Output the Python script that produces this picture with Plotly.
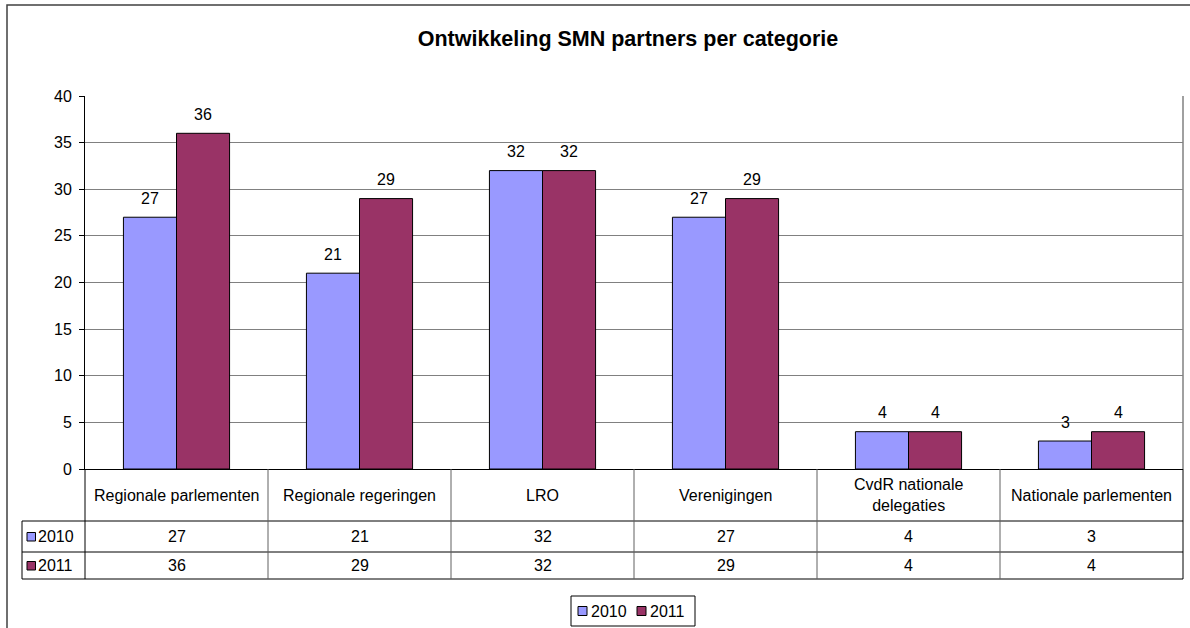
import plotly.graph_objects as go

categories = ["Regionale parlementen", "Regionale regeringen", "LRO", "Verenigingen",
              "CvdR nationale delegaties", "Nationale parlementen"]
cat_labels = ["Regionale parlementen", "Regionale regeringen", "LRO", "Verenigingen",
              "CvdR nationale<br>delegaties", "Nationale parlementen"]
series_names = ["2010", "2011"]
values_2010 = [27, 21, 32, 27, 4, 3]
values_2011 = [36, 29, 32, 29, 4, 4]
colors = ["#9999FF", "#993366"]
title_text = "Ontwikkeling SMN partners per categorie"

W, H = 1190, 628
L, R, T, B = 85, 1183, 96, 469
FONT = "Liberation Sans, Arial, sans-serif"
FS = 16


def px(x):
    return (x - L) / (R - L)


def py(y):
    return (B - y) / (B - T)


fig = go.Figure()
for name, vals, col in zip(series_names, [values_2010, values_2011], colors):
    fig.add_trace(go.Bar(
        x=categories, y=vals, name=name, showlegend=False,
        marker=dict(color=col, line=dict(color="black", width=1)),
    ))

annotations = []
shapes = []

# data labels above bars
bar_half = 26.5
for vals, shift in [(values_2010, -bar_half), (values_2011, bar_half)]:
    for c, v in zip(categories, vals):
        annotations.append(dict(x=c, y=v, xref="x", yref="y", text=str(v), showarrow=False,
                                xshift=shift, yshift=19, font=dict(size=FS, color="black"),
                                yanchor="middle"))

# table: category labels
for i, lab in enumerate(cat_labels):
    annotations.append(dict(x=i, y=py(495), xref="x", yref="paper", text=lab, showarrow=False,
                            font=dict(size=FS, color="black"), yanchor="middle"))

# table: values
row_y = [536.5, 565.5]
for vals, ry in zip([values_2010, values_2011], row_y):
    for i, v in enumerate(vals):
        annotations.append(dict(x=i, y=py(ry), xref="x", yref="paper", text=str(v),
                                showarrow=False, font=dict(size=FS, color="black"),
                                yanchor="middle"))

# table: row headers with legend keys
for name, col, ry in zip(series_names, colors, row_y):
    shapes.append(dict(type="rect", xref="paper", yref="paper",
                       x0=px(27), x1=px(35.5), y0=py(ry + 4.5), y1=py(ry - 4),
                       fillcolor=col, line=dict(color="black", width=1)))
    annotations.append(dict(x=px(36), y=py(ry), xref="paper", yref="paper", text=name,
                            showarrow=False, xanchor="left", yanchor="middle",
                            font=dict(size=FS, color="black")))

# table lines
for yl in [521, 552, 579]:
    shapes.append(dict(type="line", xref="paper", yref="paper", x0=px(22), x1=px(1183),
                       y0=py(yl), y1=py(yl), line=dict(color="black", width=1)))
shapes.append(dict(type="line", xref="paper", yref="paper", x0=px(22), x1=px(22),
                   y0=py(521), y1=py(579), line=dict(color="black", width=1)))
shapes.append(dict(type="line", xref="paper", yref="paper", x0=0, x1=0,
                   y0=0, y1=py(579), line=dict(color="black", width=1)))
for i in range(1, len(categories)):
    shapes.append(dict(type="line", xref="x", yref="paper", x0=i - 0.5, x1=i - 0.5,
                       y0=0, y1=py(579), line=dict(color="#606060", width=1)))
shapes.append(dict(type="line", xref="paper", yref="paper", x0=1, x1=1,
                   y0=py(579), y1=0, line=dict(color="black", width=1)))
# plot area right border
shapes.append(dict(type="line", xref="paper", yref="paper", x0=1, x1=1,
                   y0=0, y1=1, line=dict(color="#808080", width=1.5)))
# outer chart border
shapes.append(dict(type="rect", xref="paper", yref="paper", x0=px(7), x1=px(1200),
                   y0=py(640), y1=py(5), line=dict(color="#404040", width=1.5),
                   fillcolor="rgba(0,0,0,0)"))

# bottom legend (drawn manually)
shapes.append(dict(type="rect", xref="paper", yref="paper", x0=px(571), x1=px(695),
                   y0=py(626), y1=py(596), line=dict(color="black", width=1),
                   fillcolor="white"))
leg_x = [578, 637]
for name, col, lx in zip(series_names, colors, leg_x):
    shapes.append(dict(type="rect", xref="paper", yref="paper",
                       x0=px(lx), x1=px(lx + 9), y0=py(615.5), y1=py(606.5),
                       fillcolor=col, line=dict(color="black", width=1)))
    annotations.append(dict(x=px(lx + 11), y=py(611), xref="paper", yref="paper", text=name,
                            showarrow=False, xanchor="left", yanchor="middle",
                            font=dict(size=FS, color="black")))

fig.update_layout(
    width=W, height=H,
    margin=dict(l=L, r=W - R, t=T, b=H - B, autoexpand=False),
    paper_bgcolor="white", plot_bgcolor="white",
    font=dict(family=FONT, size=FS, color="black"),
    title=dict(text="<b>" + title_text + "</b>", x=628 / W, xref="container", xanchor="center",
               y=1 - 38 / H, yref="container", yanchor="middle",
               font=dict(size=21.5, color="black", family=FONT)),
    barmode="group", bargap=0.42, bargroupgap=0,
    showlegend=False,
    annotations=annotations, shapes=shapes,
)
fig.update_xaxes(range=[-0.5, len(categories) - 0.5], showticklabels=False, ticks="",
                 showline=True, linecolor="black", linewidth=1, showgrid=False)
fig.update_yaxes(range=[0, 40], dtick=5, showline=True, linecolor="black", linewidth=1,
                 ticks="outside", ticklen=5, tickcolor="black", showgrid=True,
                 gridcolor="#808080", gridwidth=1, zeroline=False, ticklabelstandoff=4,
                 tickfont=dict(size=FS, color="black"))

fig.write_html("out.html", config={"displayModeBar": False},
               post_script="document.body.style.margin='0';document.body.style.overflow='hidden';")
